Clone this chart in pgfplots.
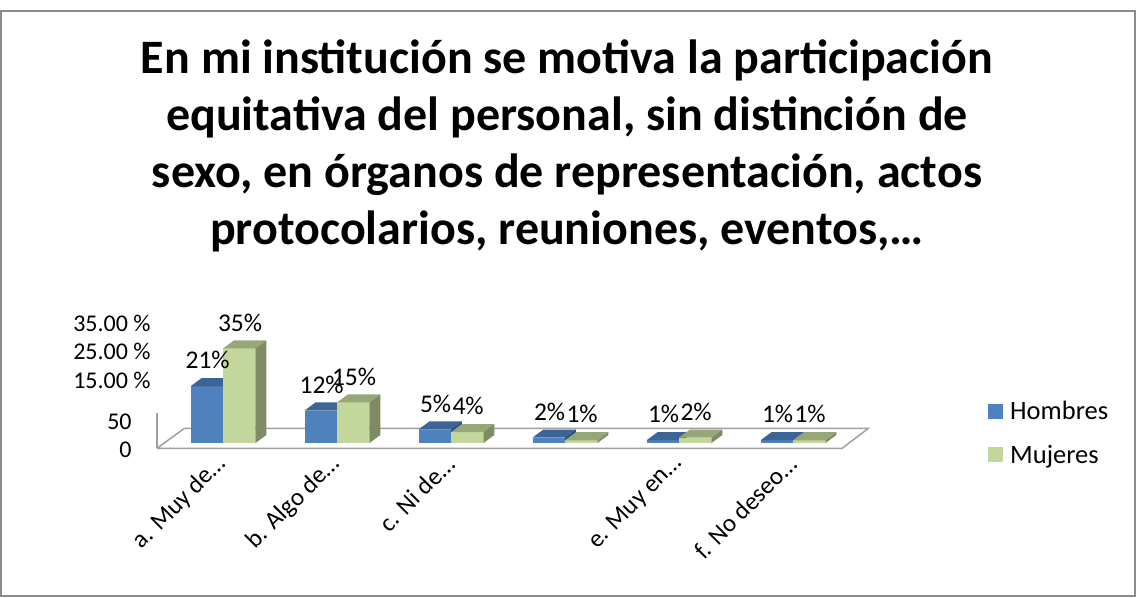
\documentclass[border=0pt]{standalone}
\usepackage{fontspec}
\setmainfont{Carlito}
\usepackage{pgfplots}
\pgfplotsset{compat=1.18}
\definecolor{bfront}{HTML}{4F81BD}
\definecolor{btop}{HTML}{3C6496}
\definecolor{bside}{HTML}{2E4F78}
\definecolor{gfront}{HTML}{C3D69B}
\definecolor{gtop}{HTML}{98A77A}
\definecolor{gside}{HTML}{7F8B64}
\definecolor{floorc}{HTML}{A0A0A0}
\definecolor{framec}{HTML}{8C8C8C}
\newcommand\tdbar[5]{%
 \pgfmathsetmacro\xr{#1+0.285}%
 \pgfmathsetmacro\xlb{#1+0.096}%
 \pgfmathsetmacro\xrb{#1+0.381}%
 \pgfmathsetmacro\hb{#2+3}%
 \pgfmathsetmacro\xc{#1+0.15}%
 \addplot[forget plot, fill=#3, draw=none] coordinates {(#1,0) (#1,#2) (\xr,#2) (\xr,0)};
 \addplot[forget plot, fill=#4, draw=none] coordinates {(#1,#2) (\xlb,\hb) (\xrb,\hb) (\xr,#2)};
 \addplot[forget plot, fill=#5, draw=none] coordinates {(\xr,0) (\xr,#2) (\xrb,\hb) (\xrb,3)};
 \addplot[forget plot, draw=none, nodes near coords={\pgfmathprintnumber[fixed,precision=0,assume math mode=true]{\pgfplotspointmeta}\%}] coordinates {(\xc,#2)};
}
\begin{document}
\begin{tikzpicture}[x=1pt,y=1pt]
\useasboundingbox[fill=white] (0,0) rectangle (1137,597);
\draw[framec, line width=1.5pt] (1,586) rectangle (1135,1);
\begin{scope}[font=\fontsize{48}{57}\selectfont\bfseries]
\node[anchor=base] at (567,523) {En mi institución se motiva la participación};
\node[anchor=base] at (567,466) {equitativa del personal, sin distinción de};
\node[anchor=base] at (567,409) {sexo, en órganos de representación, actos};
\node[anchor=base] at (567,352) {protocolarios, reuniones, eventos,…};
\end{scope}
\begin{axis}[
  at={(223pt,154pt)}, anchor=origin,
  x=114pt, y=2.7pt,
  xmin=-0.8, xmax=7.8, ymin=-5, ymax=48,
  clip=false,
  axis line style={draw=none},
  major tick length=0pt,
  tick style={draw=none},
  /pgf/number format/assume math mode=true,
  font=\fontsize{26.5}{30}\selectfont,
  xtick={0,1,2,3,4,5},
  xticklabels={a. Muy de…, b. Algo de…, c. Ni de…, {}, e. Muy en…, f. No deseo…},
  xticklabel style={rotate=45, anchor=east, inner sep=0pt, xshift=-3pt, yshift=-2pt, font=\fontsize{25}{30}\selectfont},
  ytick={-2.6,7.8},
  yticklabels={0,50},
  yticklabel style={anchor=east, inner sep=0pt, font=\fontsize{24}{28}\selectfont},
  extra y ticks={23.3,34.1,44.4},
  extra y tick labels={15.00 \%,25.00 \%,35.00 \%},
  extra y tick style={yticklabel style={xshift=19pt}, major tick length=0pt},
  every node near coord/.append style={anchor=center, yshift=26pt, inner sep=0pt, font=\fontsize{25.5}{30}\selectfont},
  legend image code/.code={\fill[#1] (0pt,-7.5pt) rectangle (15pt,7.5pt);},
  legend style={at={(0.8733,0.164)}, anchor=west, draw=none, fill=none, inner sep=0pt, row sep=24pt, font=\fontsize{26.5}{30}\selectfont, nodes={inner sep=0pt}},
  legend cell align=left,
]
\addlegendimage{fill=bfront, draw=none}
\addlegendentry{\hspace{7pt}Hombres}
\addlegendimage{fill=gfront, draw=none}
\addlegendentry{\hspace{7pt}Mujeres}
\addplot[forget plot, fill=white, draw=floorc, line width=1.5pt] coordinates {(-0.58,-2) (5.43,-2) (5.66,5.4) (-0.34,5.4) (-0.58,-2)};
\addplot[forget plot, draw=floorc, line width=1.5pt] coordinates {(-0.58,11.1) (-0.58,-2)};
% Hombres: 21 12 5 2 1 1 ; Mujeres: 35 15 4 1 2 1
\tdbar{-0.285}{21}{bfront}{btop}{bside}
\tdbar{0}{35}{gfront}{gtop}{gside}
\tdbar{0.715}{12}{bfront}{btop}{bside}
\tdbar{1}{15}{gfront}{gtop}{gside}
\tdbar{1.715}{5}{bfront}{btop}{bside}
\tdbar{2}{4}{gfront}{gtop}{gside}
\tdbar{2.715}{2}{bfront}{btop}{bside}
\tdbar{3}{1}{gfront}{gtop}{gside}
\tdbar{3.715}{1}{bfront}{btop}{bside}
\tdbar{4}{2}{gfront}{gtop}{gside}
\tdbar{4.715}{1}{bfront}{btop}{bside}
\tdbar{5}{1}{gfront}{gtop}{gside}
\end{axis}
\end{tikzpicture}
\end{document}
